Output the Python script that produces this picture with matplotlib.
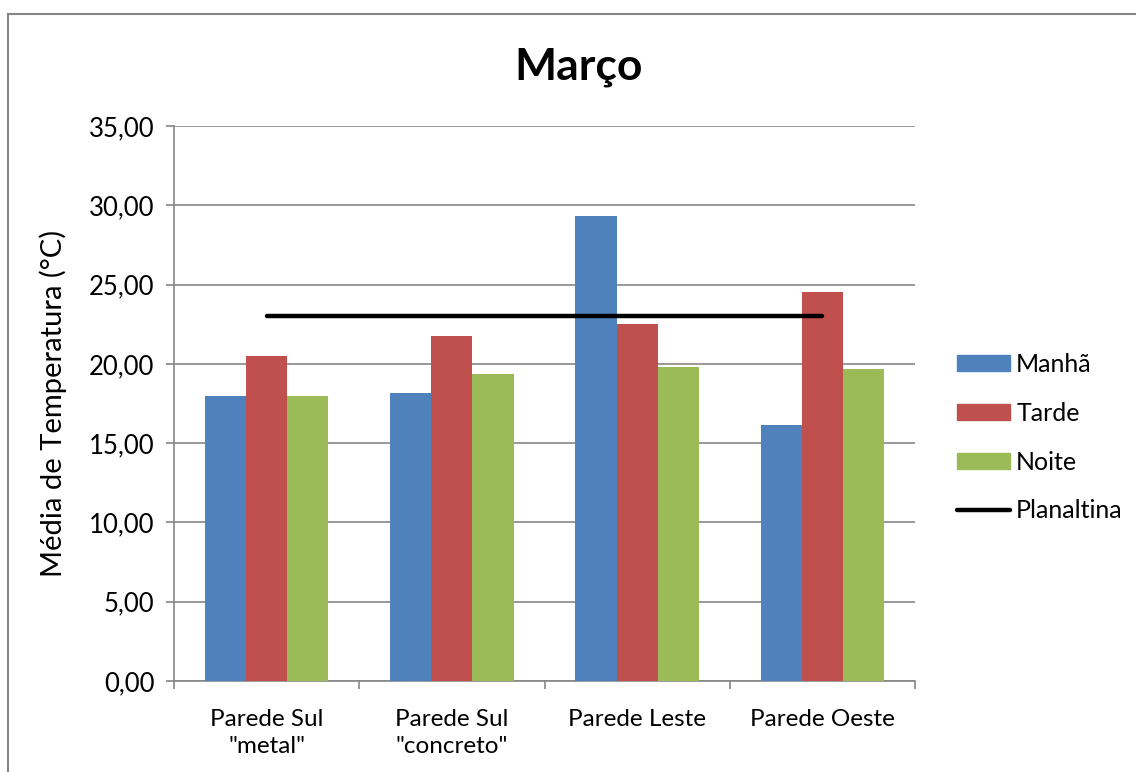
import matplotlib.pyplot as plt
import matplotlib.ticker as ticker
from matplotlib.lines import Line2D
from matplotlib.patches import Patch
import numpy as np

plt.rcParams['font.family'] = ['Lato', 'DejaVu Sans']

categorias = ['Parede Sul\n"metal"', 'Parede Sul\n"concreto"', 'Parede Leste', 'Parede Oeste']
manha = [18.0, 18.15, 29.3, 16.15]
tarde = [20.5, 21.75, 22.5, 24.5]
noite = [18.0, 19.35, 19.8, 19.65]
planaltina = [23.0, 23.0, 23.0, 23.0]

cores = ['#4F81BD', '#C0504D', '#9BBB59']
nomes = ['Manhã', 'Tarde', 'Noite']

fig = plt.figure(figsize=(11.36, 7.72), dpi=100)
ax = fig.add_axes([0.1532, 0.1179, 0.6523, 0.7189])

x = np.arange(len(categorias))
w = 1 / 4.5
for i, serie in enumerate([manha, tarde, noite]):
    ax.bar(x + (i - 1) * w, serie, w, color=cores[i], zorder=3)
ax.plot(x, planaltina, color='black', lw=3.2, solid_capstyle='round', zorder=4)

ax.set_xlim(-0.5, 3.5)
ax.set_ylim(0, 35)
ax.yaxis.set_major_locator(ticker.MultipleLocator(5))
ax.yaxis.set_major_formatter(ticker.FuncFormatter(lambda v, p: f'{v:.2f}'.replace('.', ',')))
ax.grid(axis='y', color='#868686', lw=1.2, zorder=0)

ax.set_xticks(x)
ax.set_xticklabels(categorias, fontsize=17.5, linespacing=1.35)
ax.set_xticks(np.arange(-0.5, 4, 1), minor=True)
ax.tick_params(axis='x', which='major', length=0, pad=20)
ax.tick_params(axis='x', which='minor', length=6, color='#868686', width=1.2)
ax.tick_params(axis='y', length=6, color='#868686', width=1.2, labelsize=18.5, pad=8)

for s in ['top', 'right']:
    ax.spines[s].set_visible(False)
for s in ['left', 'bottom']:
    ax.spines[s].set_color('#868686')
    ax.spines[s].set_linewidth(1.2)

ax.set_ylabel('Média de Temperatura (°C)', fontsize=21, labelpad=16)
fig.text(0.509, 0.913, 'Março', ha='center', va='center', fontsize=32, fontweight='bold')

handles = [Patch(color=c) for c in cores] + [Line2D([], [], color='black', lw=3.2, solid_capstyle='round')]
fig.legend(handles, nomes + ['Planaltina'], loc='center left', bbox_to_anchor=(0.823, 0.433),
           frameon=False, fontsize=18, handlelength=2.1, handleheight=0.6,
           handletextpad=0.25, labelspacing=1.03)

# moldura do gráfico
fig.add_artist(Line2D([0.007, 0.007], [0.0, 0.982], color='#868686', lw=1.5))
fig.add_artist(Line2D([0.007, 1.0], [0.982, 0.982], color='#868686', lw=1.5))

fig.savefig('out.png', dpi=100)
